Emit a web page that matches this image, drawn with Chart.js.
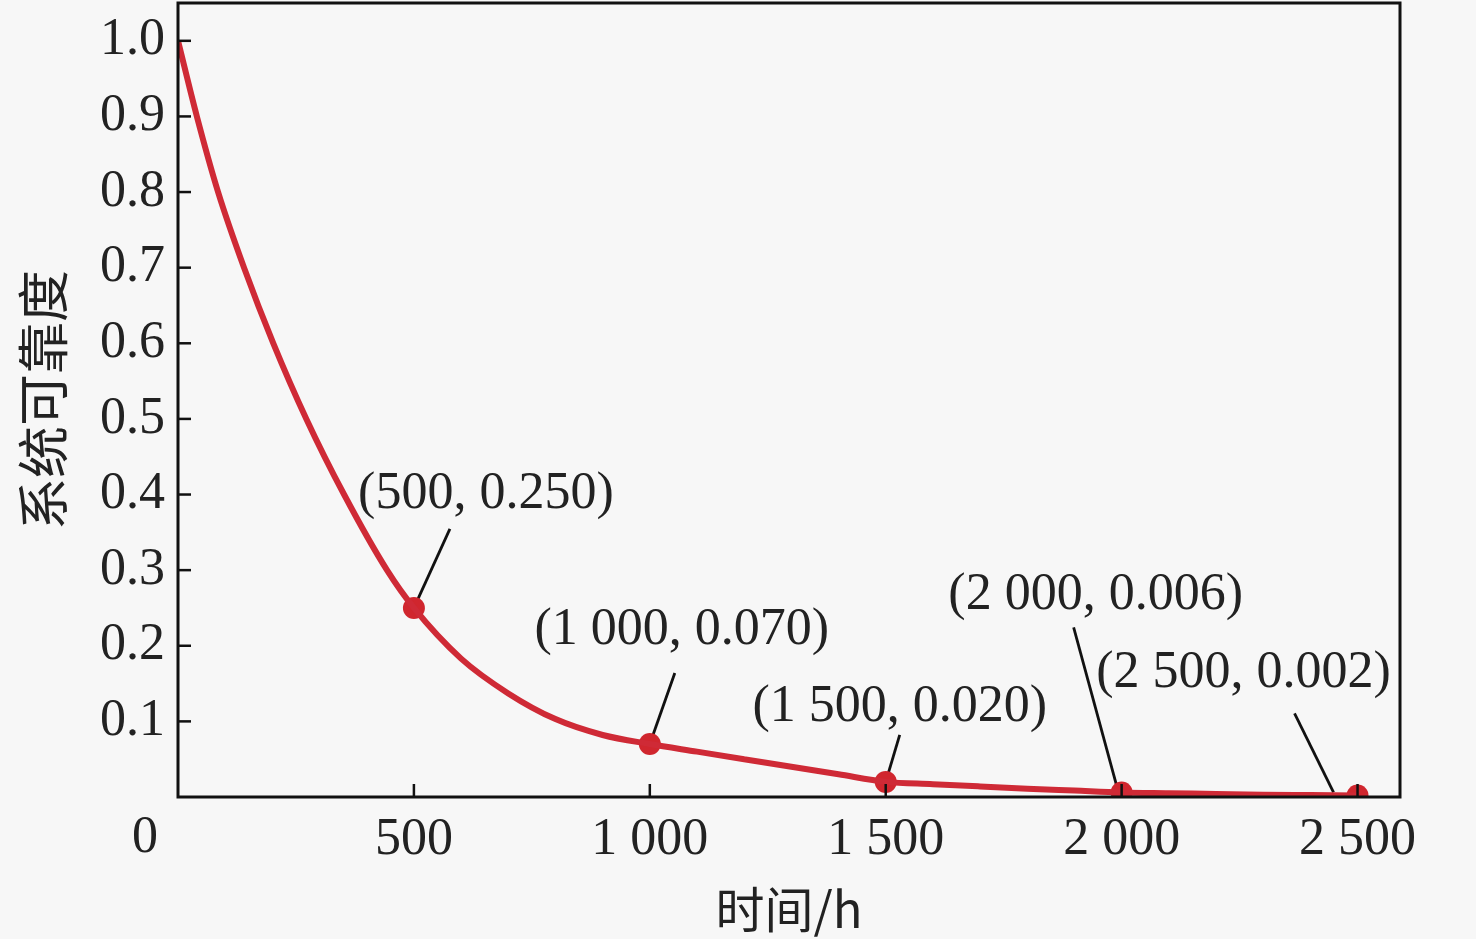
<!DOCTYPE html>
<html><head><meta charset="utf-8">
<script src="https://cdn.jsdelivr.net/npm/chart.js@4.4.1/dist/chart.umd.min.js"></script>
<style>html,body{margin:0;padding:0;background:#f7f7f7;} #wrap{width:1476px;height:939px;position:relative;}</style>
</head><body><div id="wrap"><canvas id="c"></canvas></div>
<script>
// ---- data ----
const timeHours   = [0, 40, 85, 140, 202, 272, 352, 443, 500, 600, 700, 800, 900, 1000, 1100, 1200, 1300, 1400, 1500, 1600, 1700, 1800, 1900, 2000, 2100, 2200, 2300, 2400, 2500];
const reliability = [1.0, 0.90, 0.80, 0.70, 0.60, 0.50, 0.40, 0.30, 0.250, 0.183, 0.137, 0.103, 0.082, 0.070, 0.060, 0.050, 0.040, 0.030, 0.020, 0.017, 0.014, 0.011, 0.0085, 0.006, 0.005, 0.004, 0.003, 0.0025, 0.002];
const markedTimes  = [500, 1000, 1500, 2000, 2500];
const markedValues = [0.250, 0.070, 0.020, 0.006, 0.002];
const xTickValues = [500, 1000, 1500, 2000, 2500];
const yTickValues = [0.1, 0.2, 0.3, 0.4, 0.5, 0.6, 0.7, 0.8, 0.9, 1.0];
const xTitle = '时间/h';
const yTitle = '系统可靠度';

// ---- annotation placement (pixel offsets from each marked point) ----
const labelOffsets  = [[72,-114],[32,-114],[14,-75],[-26,-197],[-114,-122]];
const leaderStarts  = [[36,-79],[25,-71],[14,-47],[-48,-165],[-63,-82]];
const leaderEnds    = [[0,0],[0,0],[0,0],[-4,-3],[-24,-3]];

const SERIF = '"Liberation Serif", "DejaVu Serif", serif';
const CJK = '"Noto Sans CJK SC", sans-serif';
const fmtThousands = v => { const s = String(Math.round(v)); return s.length > 3 ? s.slice(0, s.length-3) + ' ' + s.slice(-3) : s; };

const framePlugin = {
  id: 'frame',
  beforeDraw(chart) {
    const c = chart.ctx;
    c.save(); c.fillStyle = '#f7f7f7'; c.fillRect(0,0,chart.width,chart.height); c.restore();
  },
  beforeDatasetsDraw(chart) {
    const c = chart.ctx, xs = chart.scales.x, ys = chart.scales.y;
    c.save();
    c.strokeStyle = '#111'; c.lineWidth = 2.8;
    markedTimes.forEach((t, i) => {
      const px = xs.getPixelForValue(t), py = ys.getPixelForValue(markedValues[i]);
      c.beginPath();
      c.moveTo(px + leaderStarts[i][0], py + leaderStarts[i][1]);
      c.lineTo(px + leaderEnds[i][0], py + leaderEnds[i][1]);
      c.stroke();
    });
    c.restore();
  },
  afterDraw(chart) {
    const c = chart.ctx, a = chart.chartArea, xs = chart.scales.x, ys = chart.scales.y;
    c.save();
    c.strokeStyle = '#111'; c.lineWidth = 3;
    c.strokeRect(a.left, a.top, a.right - a.left, a.bottom - a.top);
    c.lineWidth = 2.5;
    xTickValues.forEach(v => { const p = xs.getPixelForValue(v); c.beginPath(); c.moveTo(p, a.bottom); c.lineTo(p, a.bottom - 13); c.stroke(); });
    yTickValues.forEach(v => { const p = ys.getPixelForValue(v); c.beginPath(); c.moveTo(a.left, p); c.lineTo(a.left + 13, p); c.stroke(); });
    c.fillStyle = '#222'; c.font = '52px ' + SERIF; c.textAlign = 'center'; c.textBaseline = 'middle';
    c.fillText('0', a.left - 33, a.bottom + 41);
    markedTimes.forEach((t, i) => {
      const px = xs.getPixelForValue(t), py = ys.getPixelForValue(markedValues[i]);
      c.fillText('(' + fmtThousands(t) + ', ' + markedValues[i].toFixed(3) + ')', px + labelOffsets[i][0], py + labelOffsets[i][1]);
    });
    c.restore();
  }
};

const chart = new Chart(document.getElementById('c'), {
  type: 'line',
  data: {
    datasets: [
      { data: timeHours.map((t, i) => ({x: t, y: reliability[i]})), borderColor: '#cf2a36', borderWidth: 6,
        pointRadius: 0, cubicInterpolationMode: 'monotone', fill: false },
      { data: markedTimes.map((t, i) => ({x: t, y: markedValues[i]})), showLine: false,
        pointRadius: 11, pointBackgroundColor: '#d0262e', pointBorderWidth: 0 }
    ]
  },
  options: {
    responsive: true, maintainAspectRatio: false, animation: false,
    layout: { padding: { top: 3, right: 76, left: 0, bottom: 0 } },
    plugins: { legend: { display: false }, tooltip: { enabled: false } },
    scales: {
      x: {
        type: 'linear', min: 0, max: 2590,
        afterBuildTicks: s => { s.ticks = xTickValues.map(v => ({value: v})); },
        afterFit: s => { s.height = 142; s.paddingLeft = 0; },
        grid: { display: false, drawTicks: false }, border: { display: false },
        ticks: { color: '#222', font: { family: SERIF, size: 52 }, padding: 12, maxRotation: 0, autoSkip: false, callback: v => fmtThousands(v) },
        title: { display: true, text: xTitle, color: '#222', font: { family: CJK, size: 49 }, padding: { top: 0, bottom: 0 } }
      },
      y: {
        min: 0, max: 1.05,
        afterBuildTicks: s => { s.ticks = yTickValues.map(v => ({value: v})); },
        afterFit: s => { s.width = 178; s.paddingTop = 0; s.paddingBottom = 0; },
        grid: { display: false, drawTicks: false }, border: { display: false },
        ticks: { color: '#222', font: { family: SERIF, size: 52 }, padding: 13, autoSkip: false, callback: v => v.toFixed(1) },
        title: { display: true, text: yTitle, color: '#222', font: { family: CJK, size: 52 }, padding: { top: 12, bottom: 0 } }
      }
    }
  },
  plugins: [framePlugin]
});
// markers sit well inside the plot, so no extra overflow padding is needed
chart.getSortedVisibleDatasetMetas().forEach(m => { m.controller.getMaxOverflow = () => 0; });
chart.update();
</script></body></html>
